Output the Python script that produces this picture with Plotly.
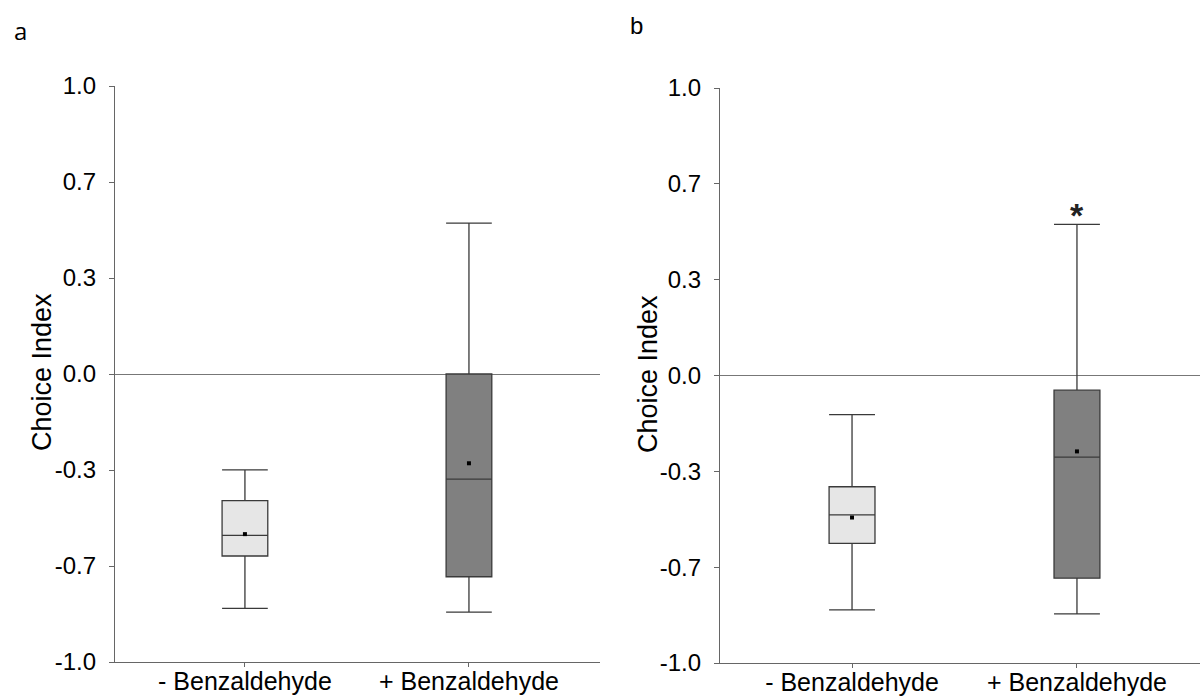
import plotly.graph_objects as go

categories = ["- Benzaldehyde", "+ Benzaldehyde"]
tick_vals = [1.0, 2/3, 1/3, 0.0, -1/3, -2/3, -1.0]
tick_text = ["1.0", "0.7", "0.3", "0.0", "-0.3", "-0.7", "-1.0"]

# panel a
a_lower = [-0.814, -0.827]
a_q1 = [-0.632, -0.704]
a_median = [-0.560, -0.365]
a_q3 = [-0.440, 0.000]
a_upper = [-0.333, 0.524]
a_mean = [-0.556, -0.310]

# panel b
b_lower = [-0.815, -0.829]
b_q1 = [-0.584, -0.705]
b_median = [-0.485, -0.284]
b_q3 = [-0.387, -0.051]
b_upper = [-0.136, 0.526]
b_mean = [-0.494, -0.264]

fills = ["#e6e6e6", "#808080"]
W, H = 1203, 697
FONT = "Liberation Sans, Arial, sans-serif"

fig = go.Figure()

def add_panel(lower, q1, med, q3, upper, mean, xa, ya):
    for i, c in enumerate(categories):
        fig.add_trace(go.Box(
            x=[c], q1=[q1[i]], median=[med[i]], q3=[q3[i]],
            lowerfence=[lower[i]], upperfence=[upper[i]],
            fillcolor=fills[i], line=dict(color="#3a3a3a", width=1.3),
            whiskerwidth=1, width=0.204, boxpoints=False,
            xaxis=xa, yaxis=ya, showlegend=False, hoverinfo="skip"))
    fig.add_trace(go.Scatter(
        x=categories, y=mean, mode="markers",
        marker=dict(symbol="square", size=4, color="black"),
        xaxis=xa, yaxis=ya, showlegend=False, hoverinfo="skip"))

add_panel(a_lower, a_q1, a_median, a_q3, a_upper, a_mean, "x", "y")
add_panel(b_lower, b_q1, b_median, b_q3, b_upper, b_mean, "x2", "y2")

axis_common = dict(showline=True, linecolor="#666666", linewidth=1.3,
                   ticks="outside", tickcolor="#666666", tickwidth=1.3,
                   showgrid=False, automargin=False,
                   tickfont=dict(family=FONT, size=24, color="black"))

xa_common = dict(axis_common, type="category", categoryorder="array",
                 categoryarray=categories, ticklen=4, zeroline=False,
                 ticklabelstandoff=-7,
                 tickfont=dict(family=FONT, size=25, color="black"))
ya_common = dict(axis_common, range=[-1, 1], tickvals=tick_vals, ticktext=tick_text,
                 ticklen=5, zeroline=True, zerolinecolor="#777777", zerolinewidth=1.3,
                 ticklabelstandoff=8)

fig.update_layout(
    width=W, height=H, margin=dict(l=0, r=0, t=0, b=0),
    paper_bgcolor="white", plot_bgcolor="white",
    xaxis=dict(xa_common, domain=[115/W, 600/W], range=[-0.580, 1.585], anchor="y"),
    yaxis=dict(ya_common, domain=[(H-662)/H, (H-86)/H], anchor="x"),
    xaxis2=dict(xa_common, domain=[720/W, 1200/W], range=[-0.587, 1.547], anchor="y2"),
    yaxis2=dict(ya_common, domain=[(H-663)/H, (H-88)/H], anchor="x2"),
)

ann = [
    dict(text="a", x=12/W, y=1-31/H, xanchor="left", yanchor="middle",
         font=dict(family="Open Sans, sans-serif", size=24, color="black")),
    dict(text="b", x=628/W, y=1-25/H, xanchor="left", yanchor="middle",
         font=dict(family="Liberation Sans, sans-serif", size=24, color="black")),
    dict(text="Choice Index", x=42/W, y=1-372/H, textangle=-90, xanchor="center", yanchor="middle",
         font=dict(family=FONT, size=27, color="black")),
    dict(text="Choice Index", x=648/W, y=1-374/H, textangle=-90, xanchor="center", yanchor="middle",
         font=dict(family=FONT, size=27, color="black")),
]
for a in ann:
    a.update(xref="paper", yref="paper", showarrow=False)
fig.update_layout(annotations=ann)
fig.add_annotation(text="<b>*</b>", x=categories[1], y=0.58, xref="x2", yref="y2",
                   showarrow=False, yanchor="middle", yshift=-6,
                   font=dict(family=FONT, size=34, color="#222222"))

fig.write_html("out.html")
